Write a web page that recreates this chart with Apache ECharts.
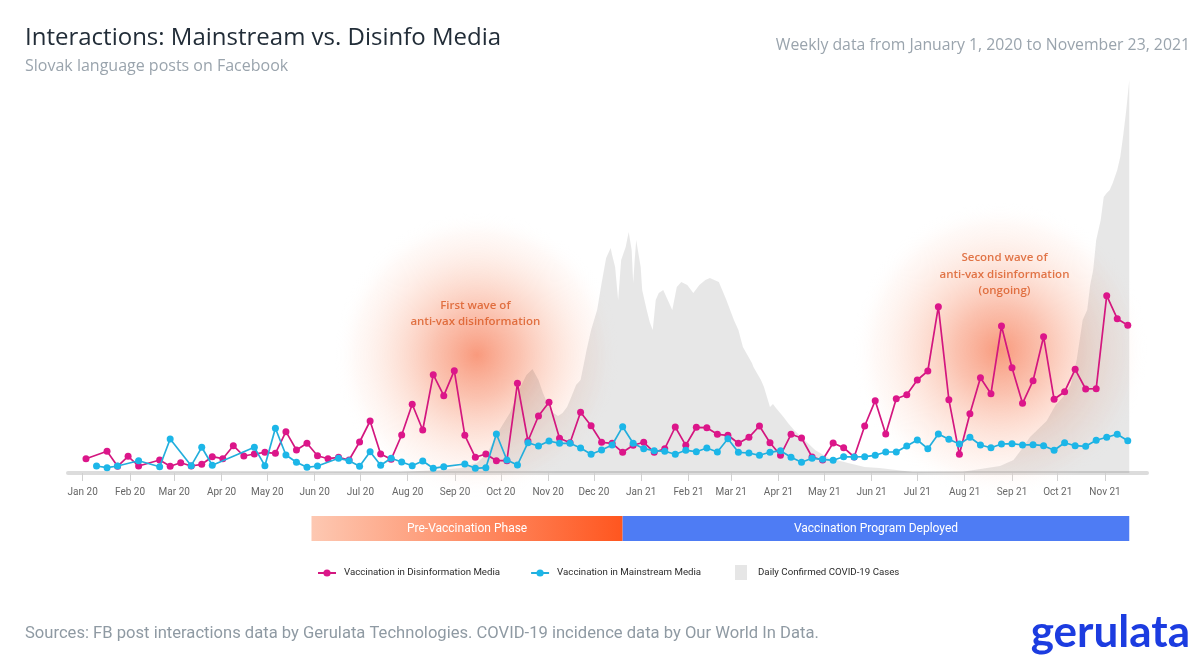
<!DOCTYPE html>
<html><head><meta charset="utf-8">
<script src="https://cdn.jsdelivr.net/npm/echarts@6/dist/echarts.min.js"></script>
<style>html,body{margin:0;padding:0;background:#fff}#c{width:1200px;height:667px}</style>
</head><body><div id="c"></div>
<script>
// ---------- DATA ----------
// weekly points (Monday-based weeks, first week starting 2019-12-30)
const firstWeek = [2019, 11, 30];
const disinfo = [14.3,null,21.7,6.7,16.7,7,null,13,6.7,10.3,
  7,8.7,16.3,14.3,27.3,17,19,20.7,19.7,41.3,
  23,29.7,17.3,14.3,15.7,13,31,52,19,13.7,
  38,68.7,43,98.3,77.3,102.3,37.7,15.7,19,12.3,
  12.3,89.7,32,57,70.7,34.7,30.3,60.7,47.3,30.7,
  29.7,20.7,27.7,30.7,20.7,24.3,46,27.7,45.7,45.3,
  38.7,37.7,29.7,35.7,47,30.3,17.7,38.7,35,16,
  13,30,25.3,16,47,72.3,39,74.3,78.3,93,
  102,166.3,73.3,18.7,59.3,95.3,79.3,147,105.3,69.7,
  92.3,136.3,73.7,81.3,103.7,84,84.3,177.3,154.3,147.7];
const mainstream = [null,7,5.3,7,null,12.3,null,6.3,34,null,
  7.3,25.7,7.7,null,null,null,25.7,7.3,44.7,18,
  10.7,5.7,7,null,14.7,12.3,6.7,21.3,7.7,14.7,
  11,7.3,12,4.7,6.3,null,9,4.7,5.3,39,
  13,8,30.3,27,32,29.7,29.7,25,18.7,23,
  28,46.3,29.7,24.3,22.3,21.7,18.7,22.7,21.3,25,
  21,34.3,20.7,20,17.7,20.7,22.3,15.7,10.7,14.7,
  13.7,12.7,16.3,16,16.3,17.7,21,21,27,33,
  24.3,39,33.7,29,35.7,28,25.3,29,29.3,28,
  28.3,27.3,22.7,30.3,27.3,26.7,32.7,35.7,38.7,32.3];
const covidDates = ['2019-12-30','2020-07-26','2020-08-21','2020-09-04','2020-09-15','2020-09-22','2020-09-30','2020-10-07','2020-10-14','2020-10-18',
  '2020-10-22','2020-10-26','2020-10-29','2020-11-02','2020-11-05','2020-11-08','2020-11-11','2020-11-14','2020-11-16','2020-11-20',
  '2020-11-23','2020-11-27','2020-11-30','2020-12-04','2020-12-07','2020-12-10','2020-12-13','2020-12-14','2020-12-16','2020-12-18',
  '2020-12-19','2020-12-20','2020-12-23','2020-12-25','2020-12-27','2020-12-28','2020-12-29','2020-12-30','2021-01-02','2021-01-03',
  '2021-01-06','2021-01-08','2021-01-10','2021-01-12','2021-01-14','2021-01-17','2021-01-20','2021-01-23','2021-01-26','2021-01-29',
  '2021-02-02','2021-02-06','2021-02-10','2021-02-14','2021-02-17','2021-02-23','2021-02-28','2021-03-05','2021-03-08','2021-03-11',
  '2021-03-17','2021-03-18','2021-03-23','2021-03-25','2021-03-29','2021-03-31','2021-04-02','2021-04-07','2021-04-10','2021-04-14',
  '2021-04-19','2021-04-28','2021-05-07','2021-05-20','2021-05-31','2021-06-10','2021-07-02','2021-08-04','2021-08-29','2021-09-07',
  '2021-09-13','2021-09-18','2021-09-29','2021-10-05','2021-10-10','2021-10-15','2021-10-19','2021-10-23','2021-10-26','2021-10-28',
  '2021-10-30','2021-11-01','2021-11-04','2021-11-06','2021-11-08','2021-11-10','2021-11-12','2021-11-15','2021-11-17','2021-11-19',
  '2021-11-21','2021-11-23'];
const covidCases = [0,1,3,5,10,20,43,60,86,98,
  104,93,80,66,60,57,60,66,73,88,
  93,123,143,163,190,215,225,218,206,173,
  193,213,226,241,223,190,213,233,206,183,
  163,151,143,173,180,183,173,163,186,191,
  188,180,188,193,195,191,173,153,143,126,
  110,106,93,86,66,69,65,56,50,43,
  36,23,15,10,6,5,1,1.3,7,13,
  25,36,52,68,76,88,113,153,163,188,
  203,233,253,276,280,283,290,303,316,338,
  363,393];
const tickDates = ['2020-01-01','2020-02-01','2020-03-01','2020-04-01','2020-05-01','2020-06-01','2020-07-01','2020-08-01','2020-09-01','2020-10-01','2020-11-01','2020-12-01',
  '2021-01-01','2021-02-01','2021-03-01','2021-04-01','2021-05-01','2021-06-01','2021-07-01','2021-08-01','2021-09-01','2021-10-01','2021-11-01'];
const tickLabels = ['Jan 20','Feb 20','Mar 20','Apr 20','May 20','Jun 20','Jul 20','Aug 20','Sep 20','Oct 20','Nov 20','Dec 20',
  'Jan 21','Feb 21','Mar 21','Apr 21','May 21','Jun 21','Jul 21','Aug 21','Sep 21','Oct 21','Nov 21'];
const phaseStart = ['2020-05-28','2020-12-21'];
const phaseEnd = ['2020-12-21','2021-11-23'];
const phaseNames = ['Pre-Vaccination Phase','Vaccination Program Deployed'];
const waveDates = ['2020-09-15','2021-08-29'];
const waveLevels = [118,123];
const noteDates = ['2020-09-14','2021-09-01'];
const noteLevels = [159.5,198.5];
const noteTexts = ['First wave of\nanti-vax disinformation','Second wave of\nanti-vax disinformation\n(ongoing)'];
const seriesNames = ['Vaccination in Disinformation Media','Vaccination in Mainstream Media','Daily Confirmed COVID-19 Cases'];

// ---------- HELPERS ----------
const DAY = 864e5;
const ts = s => { const p = s.split('-').map(Number); return new Date(p[0], p[1]-1, p[2]).getTime(); };
const weeks = disinfo.map((_, k) => new Date(firstWeek[0], firstWeek[1], firstWeek[2] + 7*k).getTime());
const tickTs = tickDates.map(ts);
const base0 = ts('2020-01-01');
const base1 = ts('2019-12-30');

const chart = echarts.init(document.getElementById('c'), null, {renderer:'canvas'});
const glowFill = {type:'radial', x:0.5, y:0.5, r:0.5, colorStops:[
  {offset:0, color:'rgba(247,128,92,0.80)'},
  {offset:0.3, color:'rgba(248,150,118,0.58)'},
  {offset:0.6, color:'rgba(251,185,160,0.34)'},
  {offset:0.85, color:'rgba(253,215,200,0.15)'},
  {offset:1, color:'rgba(255,255,255,0)'}]};
const glowSizes = [285, 295];

const option = {
  animation: false,
  grid: [
    {left:68, right:53, top:73, bottom:192},
    {left:68, right:53, top:516, bottom:126}
  ],
  xAxis: [
    {type:'value', gridIndex:0, min: base0 - 9.63*DAY, max: base0 + 697.5*DAY,
     axisLine:{show:true, lineStyle:{color:'#dcdcdc', width:4}},
     axisTick:{show:true, customValues: tickTs, length:8, lineStyle:{color:'#d0d0d0', width:1}},
     axisLabel:{show:true, customValues: tickTs, margin:12, color:'#666', fontSize:10, fontFamily:'Roboto',
       showMinLabel:true, showMaxLabel:true,
       formatter: v => { const i = tickTs.indexOf(v); return i >= 0 ? tickLabels[i] : ''; }},
     splitLine:{show:false}},
    {type:'time', gridIndex:0, show:false, min: base1 - 11.97*DAY, max: base1 + 705.8*DAY, splitLine:{show:false}},
    {type:'time', gridIndex:1, show:false, min: base1 - 11.97*DAY, max: base1 + 705.8*DAY, splitLine:{show:false}}
  ],
  yAxis: [
    {type:'value', gridIndex:0, min:-2, max:400, show:false, splitLine:{show:false}},
    {type:'value', gridIndex:1, min:0, max:1, show:false, splitLine:{show:false}}
  ],
  legend: [
    {left:312, top:563, itemWidth:18, itemHeight:9, itemGap:30, selectedMode:false,
     textStyle:{fontSize:9.7, color:'#2b2b2b', fontFamily:'Roboto', padding:[0,0,0,3]},
     data:[seriesNames[0], seriesNames[1]]},
    {left:730, top:560, itemWidth:12, itemHeight:15, selectedMode:false,
     textStyle:{fontSize:9.7, color:'#2b2b2b', fontFamily:'Roboto', padding:[0,0,0,6]},
     data:[{name:seriesNames[2], icon:'rect', itemStyle:{color:'#e6e6e6'}}]}
  ],
  graphic: [
    {type:'text', x:25, y:38, style:{text:'Interactions: Mainstream vs. Disinfo Media', font:'24px "Open Sans"', fill:'#222d38', textAlign:'left', textVerticalAlign:'middle'}},
    {type:'text', x:25, y:66, style:{text:'Slovak language posts on Facebook', font:'16px "Open Sans"', fill:'#9aa4ad', textAlign:'left', textVerticalAlign:'middle'}},
    {type:'text', x:1190, y:45, style:{text:'Weekly data from January 1, 2020 to November 23, 2021', font:'15.8px "Open Sans"', fill:'#9aa4ad', textAlign:'right', textVerticalAlign:'middle'}},
    {type:'text', x:25, y:634, style:{text:'Sources: FB post interactions data by Gerulata Technologies. COVID-19 incidence data by Our World In Data.', font:'16.6px Roboto', fill:'#8f9aa3', textAlign:'left', textVerticalAlign:'middle'}},
    {type:'text', x:1190, y:633, style:{text:'gerulata', font:'700 44px Lato', fill:'#1c3ce0', textAlign:'right', textVerticalAlign:'middle'}}
  ],
  series: [
    {name:'glow', type:'scatter', xAxisIndex:1, yAxisIndex:0, silent:true, z:1,
     data: waveDates.map((d,i)=>[ts(d), waveLevels[i]]),
     symbolSize: (v, p) => glowSizes[p.dataIndex],
     itemStyle:{color: glowFill, opacity:1}, emphasis:{disabled:true}},
    {name:seriesNames[2], type:'line', xAxisIndex:1, yAxisIndex:0, z:2, silent:true,
     data: covidDates.map((d,i)=>[ts(d), covidCases[i]]),
     showSymbol:false, symbol:'none', lineStyle:{width:0}, itemStyle:{color:'#e6e6e6'},
     areaStyle:{color:'rgba(0,0,0,0.095)', opacity:1}},
    {name:seriesNames[0], type:'line', xAxisIndex:1, yAxisIndex:0, z:3,
     data: disinfo.map((v,k)=>[weeks[k], v]), connectNulls:true,
     symbol:'circle', symbolSize:7, showSymbol:true,
     lineStyle:{color:'#d3177f', width:1.7}, itemStyle:{color:'#dc168a'}},
    {name:seriesNames[1], type:'line', xAxisIndex:1, yAxisIndex:0, z:4,
     data: mainstream.map((v,k)=>[weeks[k], v]), connectNulls:true,
     symbol:'circle', symbolSize:7, showSymbol:true,
     lineStyle:{color:'#23aedc', width:1.7}, itemStyle:{color:'#1cb6e8'}},
    {name:'notes', type:'scatter', xAxisIndex:1, yAxisIndex:0, z:6, silent:true, symbolSize:0,
     data: noteDates.map((d,i)=>[ts(d), noteLevels[i]]),
     label:{show:true, position:'inside', formatter: p => noteTexts[p.dataIndex],
       color:'#d9561f', fontSize:11.5, fontWeight:600, fontFamily:'Open Sans', lineHeight:16.5, align:'center'},
     emphasis:{disabled:true}},
    {name:'phases', type:'custom', xAxisIndex:2, yAxisIndex:1, silent:true,
     data: phaseStart.map((s,i)=>[ts(s), ts(phaseEnd[i])]),
     encode:{x:[0,1]},
     renderItem: (params, api) => {
       const a = api.coord([api.value(0), 1]);
       const b = api.coord([api.value(1), 0]);
       const i = params.dataIndex;
       const fill = i === 0
         ? new echarts.graphic.LinearGradient(0,0,1,0,[{offset:0,color:'#fdc8b2'},{offset:1,color:'#ff561f'}])
         : '#4e7cf4';
       return {type:'rect', shape:{x:a[0], y:a[1], width:b[0]-a[0], height:b[1]-a[1]}, style:{fill:fill},
         textContent:{style:{text:phaseNames[i], fill:'#fff', font:'12px Roboto'}},
         textConfig:{position:'inside'}};
     }}
  ]
};
chart.setOption(option);
</script>
</body></html>
